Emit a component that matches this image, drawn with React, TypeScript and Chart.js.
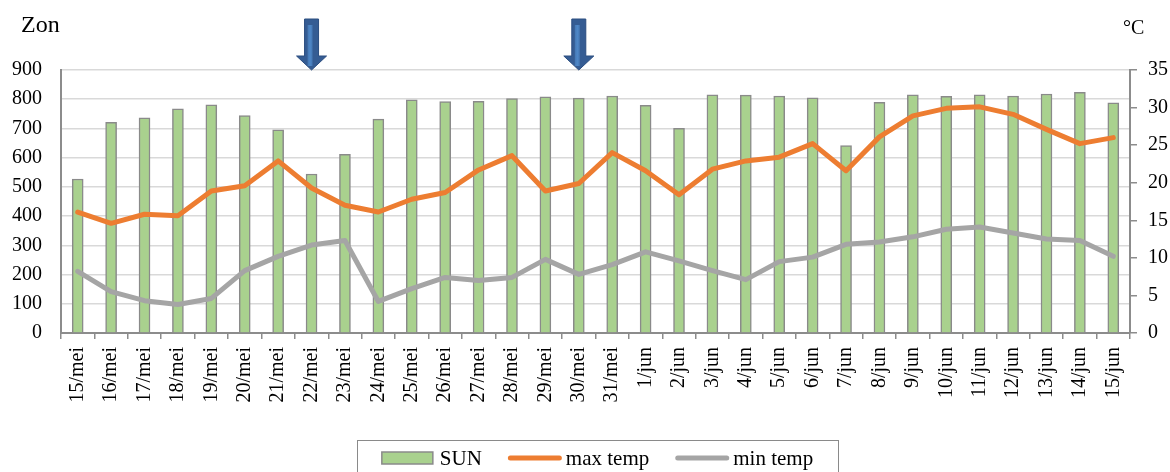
import React, { useEffect, useRef } from 'react';
import { Chart, registerables } from 'chart.js';

Chart.register(...registerables);

const categories = [
  '15/mei', '16/mei', '17/mei', '18/mei', '19/mei', '20/mei', '21/mei', '22/mei',
  '23/mei', '24/mei', '25/mei', '26/mei', '27/mei', '28/mei', '29/mei', '30/mei',
  '31/mei', '1/jun', '2/jun', '3/jun', '4/jun', '5/jun', '6/jun', '7/jun',
  '8/jun', '9/jun', '10/jun', '11/jun', '12/jun', '13/jun', '14/jun', '15/jun',
];

const sunValues = [
  527, 721, 736, 767, 781, 744, 695, 544, 611, 732, 798, 792, 793, 802, 808, 804, 811,
  779, 700, 815, 814, 811, 805, 641, 789, 815, 810, 815, 811, 818, 824, 788,
];

const maxTemp = [
  16.1, 14.6, 15.8, 15.6, 18.9, 19.6, 22.9, 19.3, 17.0, 16.1, 17.8, 18.7, 21.7, 23.6, 18.9, 19.9, 24.0,
  21.6, 18.4, 21.8, 22.9, 23.4, 25.2, 21.6, 26.1, 28.9, 29.9, 30.1, 29.1, 27.1, 25.2, 26.0,
];

const minTemp = [
  8.2, 5.5, 4.3, 3.8, 4.6, 8.3, 10.2, 11.7, 12.3, 4.2, 5.9, 7.4, 7.0, 7.4, 9.8, 7.8, 9.1,
  10.8, 9.6, 8.3, 7.1, 9.5, 10.1, 11.8, 12.1, 12.8, 13.8, 14.1, 13.3, 12.5, 12.3, 10.2,
];

const leftAxisRange = [0, 900];
const leftAxisStep = 100;
const rightAxisRange = [0, 35];
const rightAxisStep = 5;
const arrowDates = ['22/mei', '30/mei'];
const leftAxisTitle = 'Zon';
const rightAxisTitle = '°C';
const seriesLabels = ['SUN', 'max temp', 'min temp'];

const SERIF = '"Liberation Serif", "Times New Roman", serif';
const AXIS_GRAY = '#8c8c8c';

const decorPlugin = {
  id: 'decor',
  afterDraw(chart: any) {
    const ctx = chart.ctx;
    const area = chart.chartArea;
    const xs = chart.scales.x;
    ctx.save();

    // axis titles
    ctx.fillStyle = '#000';
    ctx.textBaseline = 'alphabetic';
    ctx.textAlign = 'left';
    ctx.font = `24px ${SERIF}`;
    ctx.fillText(leftAxisTitle, 21, 32);
    ctx.font = `20px ${SERIF}`;
    ctx.fillText(rightAxisTitle, 1123, 34);

    // arrows
    arrowDates.forEach((d) => {
      const idx = categories.indexOf(d);
      if (idx < 0) return;
      const cx = xs.getPixelForValue(idx);
      const top = 19;
      const neck = 56;
      const tip = area.top;
      ctx.beginPath();
      ctx.moveTo(cx - 7, top);
      ctx.lineTo(cx + 7, top);
      ctx.lineTo(cx + 7, neck);
      ctx.lineTo(cx + 15, neck);
      ctx.lineTo(cx, tip);
      ctx.lineTo(cx - 15, neck);
      ctx.lineTo(cx - 7, neck);
      ctx.closePath();
      ctx.fillStyle = '#355C93';
      ctx.fill();
      ctx.strokeStyle = '#2C4E80';
      ctx.lineWidth = 1;
      ctx.stroke();
      const g = ctx.createLinearGradient(cx - 5, 0, cx + 2, 0);
      g.addColorStop(0, '#3F6FAA');
      g.addColorStop(0.5, '#4F88C8');
      g.addColorStop(1, '#3F6FAA');
      ctx.fillStyle = g;
      ctx.fillRect(cx - 4, top + 6, 5, neck - top + 4);
    });

    // legend
    ctx.font = `21px ${SERIF}`;
    const symW = 53;
    const symGap = 5;
    const itemGap = 26;
    const widths = seriesLabels.map((l) => ctx.measureText(l).width);
    const total = widths.reduce((a, b) => a + b, 0) + seriesLabels.length * (symW + symGap) + itemGap * (seriesLabels.length - 1);
    const boxCx = (area.left + area.right) / 2 + 2;
    const boxW = 481;
    ctx.strokeStyle = '#8a8a8a';
    ctx.lineWidth = 1;
    ctx.strokeRect(Math.round(boxCx - boxW / 2) + 0.5, 440.5, boxW, 45);
    let x = boxCx - total / 2;
    const rowY = 458;
    chart.data.datasets.forEach((ds: any, i: number) => {
      if (ds.type === 'bar') {
        ctx.fillStyle = ds.backgroundColor;
        ctx.fillRect(x, rowY - 6, symW - 2, 12);
        ctx.strokeStyle = ds.borderColor;
        ctx.lineWidth = 1.5;
        ctx.strokeRect(x, rowY - 6, symW - 2, 12);
      } else {
        ctx.strokeStyle = ds.borderColor;
        ctx.lineWidth = 5;
        ctx.lineCap = 'round';
        ctx.beginPath();
        ctx.moveTo(x + 2.5, rowY);
        ctx.lineTo(x + symW - 1.5, rowY);
        ctx.stroke();
      }
      ctx.fillStyle = '#000';
      ctx.textBaseline = 'middle';
      ctx.textAlign = 'left';
      ctx.fillText(seriesLabels[i], x + symW + symGap, rowY + 1);
      x += symW + symGap + widths[i] + itemGap;
    });

    ctx.restore();
  },
};

export default function App() {
  const canvasRef = useRef<HTMLCanvasElement | null>(null);

  useEffect(() => {
    document.body.style.margin = '0';
    const canvas = canvasRef.current;
    if (!canvas) return;
    const tickFont = { family: SERIF, size: 20 };
    const chart = new Chart(canvas, {
      type: 'bar',
      data: {
        labels: categories,
        datasets: [
          {
            type: 'bar',
            label: seriesLabels[0],
            data: sunValues,
            backgroundColor: '#A9D18E',
            borderColor: '#8a8a8a',
            borderWidth: 1.5,
            barThickness: 11,
            yAxisID: 'y',
            order: 3,
          },
          {
            type: 'line',
            label: seriesLabels[1],
            data: maxTemp,
            borderColor: '#ED7D31',
            backgroundColor: '#ED7D31',
            borderWidth: 5,
            pointRadius: 0,
            tension: 0,
            borderCapStyle: 'round',
            borderJoinStyle: 'round',
            yAxisID: 'y1',
            order: 1,
          },
          {
            type: 'line',
            label: seriesLabels[2],
            data: minTemp,
            borderColor: '#A5A5A5',
            backgroundColor: '#A5A5A5',
            borderWidth: 5,
            pointRadius: 0,
            tension: 0,
            borderCapStyle: 'round',
            borderJoinStyle: 'round',
            yAxisID: 'y1',
            order: 2,
          },
        ] as any,
      },
      options: {
        responsive: false,
        animation: false,
        devicePixelRatio: 1,
        layout: { padding: { top: 70, left: 0, right: 0, bottom: 0 } },
        plugins: {
          legend: { display: false },
          tooltip: { enabled: false },
        },
        scales: {
          x: {
            type: 'category',
            offset: true,
            grid: {
              display: true,
              drawOnChartArea: false,
              drawTicks: true,
              tickLength: 6,
              color: AXIS_GRAY,
              lineWidth: 1.5,
              offset: true,
            },
            border: { color: AXIS_GRAY, width: 2 },
            ticks: {
              autoSkip: false,
              minRotation: 90,
              maxRotation: 90,
              padding: 8,
              color: '#000',
              font: tickFont,
            },
            afterFit: (s: any) => { s.height = 139; },
          },
          y: {
            position: 'left',
            min: leftAxisRange[0],
            max: leftAxisRange[1],
            ticks: { stepSize: leftAxisStep, padding: 19, color: '#000', font: tickFont },
            grid: { color: '#D9D9D9', lineWidth: 1.5, drawTicks: false },
            border: { color: AXIS_GRAY, width: 2 },
            afterFit: (s: any) => { s.width = 61; },
          },
          y1: {
            position: 'right',
            min: rightAxisRange[0],
            max: rightAxisRange[1],
            ticks: { stepSize: rightAxisStep, padding: 11, color: '#000', font: tickFont },
            grid: { drawOnChartArea: false, drawTicks: true, tickLength: 7, color: AXIS_GRAY, lineWidth: 1.5 },
            border: { color: AXIS_GRAY, width: 2 },
            afterFit: (s: any) => { s.width = 40; },
          },
        },
      } as any,
      plugins: [decorPlugin],
    });
    return () => chart.destroy();
  }, []);

  return (
    <div style={{ position: 'absolute', left: 0, top: 0, width: 1170, height: 472, background: '#fff' }}>
      <canvas ref={canvasRef} width={1170} height={472} style={{ display: 'block' }} />
    </div>
  );
}
